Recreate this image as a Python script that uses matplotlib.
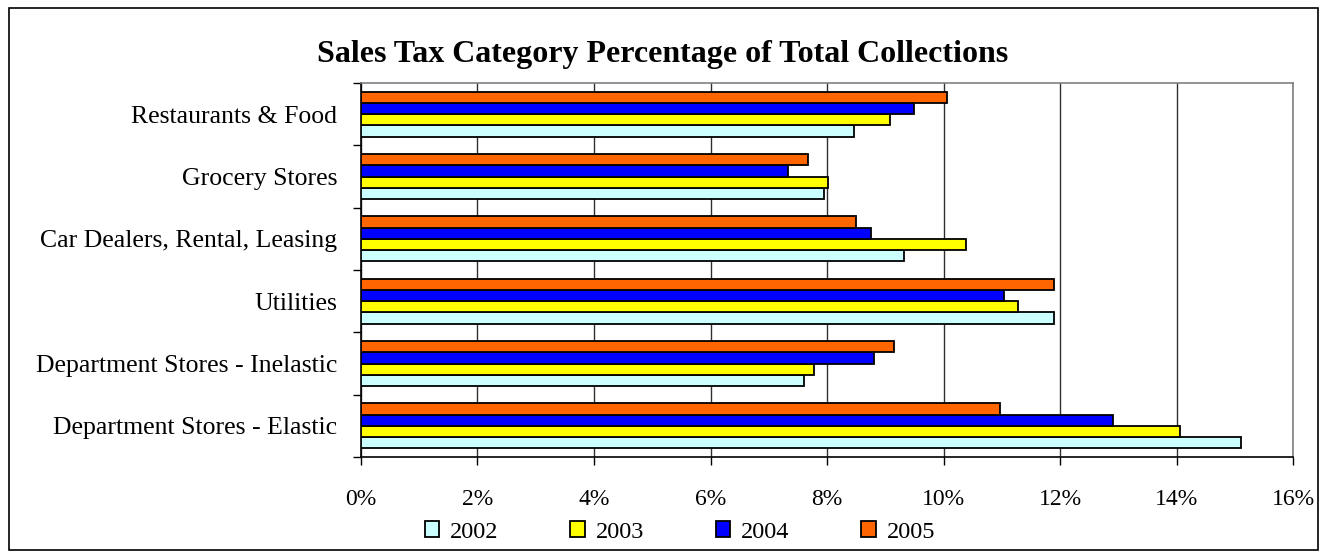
import numpy as np
import matplotlib.pyplot as plt
from matplotlib.patches import Rectangle
from matplotlib.ticker import FuncFormatter, MultipleLocator

plt.rcParams['font.family'] = ['Liberation Serif', 'DejaVu Serif']

# Data (percent of total collections)
categories = ['Department Stores - Elastic', 'Department Stores - Inelastic', 'Utilities',
              'Car Dealers, Rental, Leasing', 'Grocery Stores', 'Restaurants & Food']
years = ['2002', '2003', '2004', '2005']
v2002 = [15.11, 7.61, 11.90, 9.32, 7.95, 8.46]
v2003 = [14.06, 7.78, 11.28, 10.39, 8.02, 9.08]
v2004 = [12.91, 8.81, 11.04, 8.75, 7.33, 9.49]
v2005 = [10.97, 9.15, 11.90, 8.50, 7.68, 10.06]
colors = ['#CCFFFF', '#FFFF00', '#0000FF', '#FF6600']

fig = plt.figure(figsize=(13.25, 5.54), dpi=100)
ax = fig.add_axes([361/1325, 1 - 457/554, (1293-361)/1325, (457-83)/554])

# outer chart border
fig.patches.append(Rectangle((9/1325, 1 - 550/554), (1318-9)/1325, (550-8)/554,
                             transform=fig.transFigure, fill=False,
                             edgecolor='#000000', linewidth=1.2))

y = np.arange(len(categories))
h = 0.18
series = [v2002, v2003, v2004, v2005]
for i, vals in enumerate(series):
    ax.barh(y + (i - 1.5) * h, vals, height=h, color=colors[i], edgecolor='black',
            linewidth=1.3, label=years[i], zorder=3)

ax.set_xlim(0, 16)
ax.set_ylim(-0.5, len(categories) - 0.5)
ax.xaxis.set_major_locator(MultipleLocator(2))
ax.xaxis.set_major_formatter(FuncFormatter(lambda v, p: f'{v:.0f}%'))
ax.grid(axis='x', color='#303030', linewidth=1.0, zorder=0)

ax.set_yticks(y)
ax.set_yticklabels(categories, fontsize=18.5)
ax.set_yticks(np.arange(-0.5, len(categories)), minor=True)
ax.tick_params(axis='y', which='major', length=0, pad=17)
ax.tick_params(axis='y', which='minor', length=6, width=1)
ax.tick_params(axis='x', length=6, width=1, labelsize=17, pad=17)

for s in ['left', 'bottom']:
    ax.spines[s].set_color('black')
    ax.spines[s].set_linewidth(1.2)
for s in ['top', 'right']:
    ax.spines[s].set_color('#808080')
    ax.spines[s].set_linewidth(1.2)

fig.text(0.5, 1 - 54/554, 'Sales Tax Category Percentage of Total Collections',
         ha='center', va='center', fontsize=23, fontweight='bold')

fig.legend(loc='center', bbox_to_anchor=(680/1325, 1 - 532/554), ncol=4, frameon=False,
           fontsize=17.5, handlelength=0.6, handleheight=0.6, columnspacing=2.95,
           handletextpad=0.45, borderpad=0)

fig.savefig('out.png', dpi=100)
